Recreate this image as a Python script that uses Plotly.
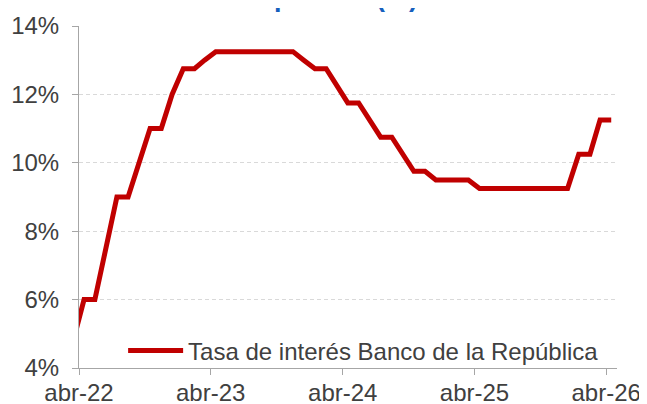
import plotly.graph_objects as go

# Monthly observations (mid-month), policy rate in %
months = [
    "2022-03-15", "2022-04-15", "2022-05-15", "2022-06-15", "2022-07-15", "2022-08-15",
    "2022-09-15", "2022-10-15", "2022-11-15", "2022-12-15", "2023-01-15", "2023-02-15",
    "2023-03-15", "2023-04-15", "2023-05-15", "2023-06-15", "2023-07-15", "2023-08-15",
    "2023-09-15", "2023-10-15", "2023-11-15", "2023-12-15", "2024-01-15", "2024-02-15",
    "2024-03-15", "2024-04-15", "2024-05-15", "2024-06-15", "2024-07-15", "2024-08-15",
    "2024-09-15", "2024-10-15", "2024-11-15", "2024-12-15", "2025-01-15", "2025-02-15",
    "2025-03-15", "2025-04-15", "2025-05-15", "2025-06-15", "2025-07-15", "2025-08-15",
    "2025-09-15", "2025-10-15", "2025-11-15", "2025-12-15", "2026-01-15", "2026-02-15",
    "2026-03-15", "2026-04-15",
]
rate = [
    4.75, 6.0, 6.0, 7.5, 9.0, 9.0,
    10.0, 11.0, 11.0, 12.0, 12.75, 12.75,
    13.0, 13.25, 13.25, 13.25, 13.25, 13.25,
    13.25, 13.25, 13.25, 13.0, 12.75, 12.75,
    12.25, 11.75, 11.75, 11.25, 10.75, 10.75,
    10.25, 9.75, 9.75, 9.5, 9.5, 9.5,
    9.5, 9.25, 9.25, 9.25, 9.25, 9.25,
    9.25, 9.25, 9.25, 9.25, 10.25, 10.25,
    11.25, 11.25,
]
series_name = "Tasa de interés Banco de la República"
title_text = "Tasa de interés Banco de la<br>República (%)"

x_tick_vals = ["2022-04-01", "2023-04-01", "2024-04-01", "2025-04-01", "2026-04-01"]
x_tick_text = ["abr-22", "abr-23", "abr-24", "abr-25", "abr-26"]
y_tick_vals = [4, 6, 8, 10, 12, 14]
y_tick_text = ["4%", "6%", "8%", "10%", "12%", "14%"]

FONT = "Liberation Sans, Arial, sans-serif"
GRAY_TXT = "#404040"
AXIS = "#a6a6a6"

fig = go.Figure()
fig.add_trace(go.Scatter(
    x=months, y=rate, mode="lines", name=series_name,
    line=dict(color="#C00000", width=5),
))

# Title sits mostly above the top edge, as in the reference (only its lower part shows)
fig.add_annotation(
    text=title_text, xref="paper", yref="paper", x=0.466, y=1.035,
    xanchor="center", yanchor="bottom", showarrow=False, align="center",
    font=dict(family=FONT, size=27, color="#1560BD", weight="bold"),
)

fig.update_layout(
    width=647, height=404,
    margin=dict(l=71, r=38, t=18, b=44),
    paper_bgcolor="white", plot_bgcolor="white",
    font=dict(family=FONT, size=24, color=GRAY_TXT),
    showlegend=True,
    legend=dict(
        x=0.082, xanchor="left", y=0.05, yanchor="middle",
        bgcolor="rgba(0,0,0,0)", font=dict(size=24, color=GRAY_TXT),
        itemwidth=55,
    ),
    xaxis=dict(
        type="date", range=["2022-04-01", "2026-05-01"],
        tickvals=x_tick_vals, ticktext=x_tick_text,
        showline=True, linecolor=AXIS, linewidth=1,
        ticks="outside", ticklen=6, tickcolor=AXIS,
        showgrid=False, zeroline=False, automargin=False,
        ticklabelstandoff=-3,
        tickfont=dict(size=24, color=GRAY_TXT),
    ),
    yaxis=dict(
        range=[4, 14], tickvals=y_tick_vals, ticktext=y_tick_text,
        showline=True, linecolor=AXIS, linewidth=1,
        ticks="outside", ticklen=6, tickcolor=AXIS,
        showgrid=True, gridcolor="#d9d9d9", gridwidth=1, griddash="4px,3px",
        zeroline=False, ticklabelstandoff=8, automargin=False,
        tickfont=dict(size=24, color=GRAY_TXT),
    ),
)

fig.write_html("out.html")
